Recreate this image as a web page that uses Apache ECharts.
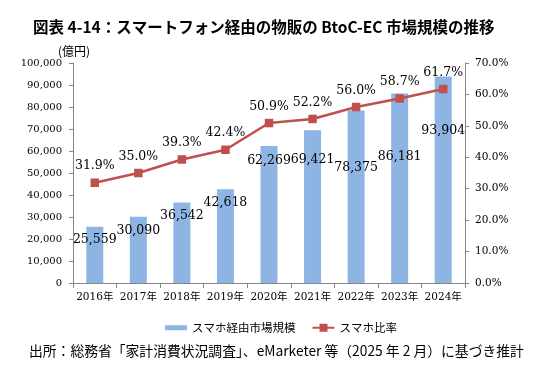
<!DOCTYPE html>
<html><head><meta charset="utf-8">
<script src="https://cdn.jsdelivr.net/npm/echarts@6/dist/echarts.min.js"></script>
<style>html,body{margin:0;padding:0;background:#fff}#c{width:545px;height:372px}</style>
</head><body><div id="c"></div>
<script>
// ---- data ----
const categories = ['2016年','2017年','2018年','2019年','2020年','2021年','2022年','2023年','2024年'];
const marketSize = [25559, 30090, 36542, 42618, 62269, 69421, 78375, 86181, 93904]; // 億円
const smartphoneRatio = [31.9, 35.0, 39.3, 42.4, 50.9, 52.2, 56.0, 58.7, 61.7];   // %
const leftAxisMin = 0, leftAxisMax = 100000, leftAxisStep = 10000;
const rightAxisMin = 0, rightAxisMax = 70, rightAxisStep = 10;
const seriesNames = ['スマホ経由市場規模', 'スマホ比率'];
const titleText = '図表 4-14：スマートフォン経由の物販の BtoC-EC 市場規模の推移';
const unitText = '(億円)';
const sourceText = '出所：総務省「家計消費状況調査」、eMarketer 等（2025 年 2 月）に基づき推計';

// ---- style ----
const barLabelDrop = [7, 7.5, 7, 7, 8.5, 23.5, 50.5, 57.5, 48.5];
const serif = "'DejaVu Serif','Noto Sans CJK JP',serif";
const cjk = "'Noto Sans CJK JP',sans-serif";
const axisGray = '#868686';

const chart = echarts.init(document.getElementById('c'), null, {renderer: 'canvas'});
chart.setOption({
  animation: false,
  backgroundColor: '#fff',
  title: {
    text: titleText, left: 28, top: 14,
    textStyle: {fontFamily: cjk, fontSize: 15.5, fontWeight: 'bold', color: '#000'}
  },
  graphic: [
    {type: 'text', left: 58, top: 45, style: {text: unitText, font: "12px 'Noto Sans CJK JP'", fill: '#000'}},
    {type: 'text', left: 29, top: 344, style: {text: sourceText, font: "13.8px 'Noto Sans CJK JP'", fill: '#000'}}
  ],
  legend: {
    left: 160, top: 317, itemWidth: 22, itemHeight: 10, itemGap: 16,
    textStyle: {fontFamily: cjk, fontSize: 11.5, color: '#000'},
    data: [
      {name: seriesNames[0], icon: 'path://M0,0h22v5h-22z'},
      {name: seriesNames[1]}
    ]
  },
  grid: {left: 73, right: 80, top: 63, bottom: 89, containLabel: false},
  xAxis: {
    type: 'category', data: categories,
    axisLine: {lineStyle: {color: axisGray, width: 1}},
    axisTick: {show: true, length: 5, lineStyle: {color: axisGray}},
    axisLabel: {fontFamily: serif, fontSize: 10.5, color: '#000', margin: 9, interval: 0}
  },
  yAxis: [
    {
      type: 'value', min: leftAxisMin, max: leftAxisMax, interval: leftAxisStep,
      splitLine: {show: false},
      axisLine: {show: true, lineStyle: {color: axisGray}},
      axisTick: {show: true, length: 4, lineStyle: {color: axisGray}},
      axisLabel: {fontFamily: serif, fontSize: 10, color: '#000', margin: 11,
        formatter: v => v.toLocaleString('en-US')}
    },
    {
      type: 'value', min: rightAxisMin, max: rightAxisMax, interval: rightAxisStep,
      position: 'right',
      splitLine: {show: false},
      axisLine: {show: true, lineStyle: {color: axisGray}},
      axisTick: {show: true, length: 4, lineStyle: {color: axisGray}},
      axisLabel: {fontFamily: serif, fontSize: 10.5, color: '#000', margin: 10,
        formatter: v => v.toFixed(1) + '%'}
    }
  ],
  series: [
    {
      name: seriesNames[0], type: 'bar', yAxisIndex: 0, barWidth: 17,
      itemStyle: {color: '#8EB4E3'},
      label: {show: true, position: 'insideTop', fontFamily: serif, fontSize: 12.5, color: '#000',
        formatter: p => p.value.toLocaleString('en-US')},
      data: marketSize.map((v, i) => ({value: v, label: {distance: barLabelDrop[i]}}))
    },
    {
      name: seriesNames[1], type: 'line', yAxisIndex: 1, z: 5,
      symbol: 'rect', symbolSize: 8.5,
      lineStyle: {color: '#C0504D', width: 2.5},
      itemStyle: {color: '#C0504D'},
      label: {show: true, position: 'top', distance: 6, fontFamily: serif, fontSize: 12.5, color: '#000',
        formatter: p => p.value.toFixed(1) + '%'},
      data: smartphoneRatio
    }
  ]
});
</script>
</body></html>
